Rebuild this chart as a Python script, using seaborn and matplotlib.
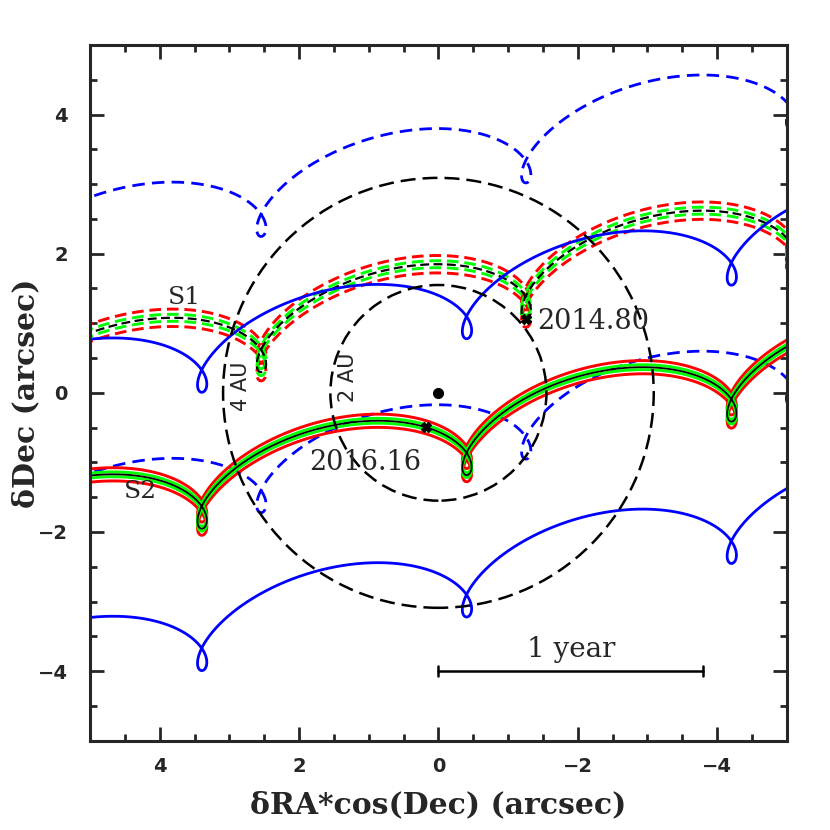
import numpy as np
import pandas as pd
import matplotlib
matplotlib.use("Agg")
import matplotlib.pyplot as plt
import seaborn as sns

# Track parameters (arcsec and arcsec/yr)
sources = ["S1", "S2"]
ref_epoch = [2014.80, 2016.49]   # epoch of the cusp of each track
ra_ref = [-1.26, -0.41]
dec_ref = [1.62, -0.63]
mu_ra = -3.80
mu_dec = 0.77
plx_ra = 0.76
plx_dec = 0.57
plx_phase = -0.25
green_offset = [0.05, 0.035]
red_offset = [0.125, 0.095]
blue_shift = [[1.95, -2.02], [1.96, -2.04]]
track_ls = ["--", "-"]

marker_epochs = [2014.80, 2016.16]
marker_labels = ["2014.80", "2016.16"]
marker_text_xy = [(-1.42, 1.02), (1.05, -1.0)]
marker_text_ha = ["left", "center"]
source_label_xy = [(3.65, 1.37), (4.28, -1.42)]

circle_radii = [1.55, 3.09]
circle_labels = ["2 AU", "4 AU"]
circle_label_xy = [(1.30, 0.23), (2.83, 0.09)]

bar_start = 0.0
bar_y = -4.0
bar_text_y = -3.69


def track(i, t):
    # proper motion plus annual parallax, t in years from the reference epoch
    ph = 2 * np.pi * t
    x = ra_ref[i] + mu_ra * t + plx_ra * np.sin(ph)
    y = dec_ref[i] + mu_dec * t - plx_dec * np.cos(ph + plx_phase)
    return x, y


sns.set_style("ticks")
plt.rcParams["font.family"] = ["DejaVu Sans"]

fig = plt.figure(figsize=(8.3, 8.3), dpi=100)
ax = fig.add_axes([0.1084, 0.1076, 0.8396, 0.8382])

t = np.linspace(-2.2, 1.8, 6000)
dash_blue = (0, (4.5, 2.6))
dash_band = (0, (4.0, 2.0))

for i, name in enumerate(sources):
    x, y = track(i, t)
    ls_blue = dash_blue if track_ls[i] == "--" else "-"
    ls_band = dash_band if track_ls[i] == "--" else "-"
    for shift in blue_shift[i]:
        df = pd.DataFrame({"x": x, "y": y + shift})
        sns.lineplot(data=df, x="x", y="y", sort=False, estimator=None, ax=ax,
                     color="#0000ff", lw=2.0, linestyle=ls_blue)
    for off in (red_offset[i], -red_offset[i]):
        df = pd.DataFrame({"x": x, "y": y + off})
        sns.lineplot(data=df, x="x", y="y", sort=False, estimator=None, ax=ax,
                     color="#ff0000", lw=2.1, linestyle=ls_band)
    for off in (green_offset[i], -green_offset[i]):
        df = pd.DataFrame({"x": x, "y": y + off})
        sns.lineplot(data=df, x="x", y="y", sort=False, estimator=None, ax=ax,
                     color="#00ff00", lw=2.1, linestyle=ls_band)
    df = pd.DataFrame({"x": x, "y": y})
    sns.lineplot(data=df, x="x", y="y", sort=False, estimator=None, ax=ax,
                 color="black", lw=1.3 if track_ls[i] == "-" else 1.6,
                 linestyle=ls_band)
    ax.text(*source_label_xy[i], name, fontsize=18, family="DejaVu Serif",
            ha="center", va="center")

# epoch markers on the tracks
for i, ep in enumerate(marker_epochs):
    mx, my = track(i, ep - ref_epoch[i])
    ax.plot(mx, my, marker="X", ms=7, color="black", mec="black", zorder=6)
    ax.text(*marker_text_xy[i], marker_labels[i], fontsize=19.5,
            family="DejaVu Serif", ha=marker_text_ha[i], va="center", zorder=7)

# separation circles
for r, lab, (lx, ly) in zip(circle_radii, circle_labels, circle_label_xy):
    ax.add_patch(plt.Circle((0, 0), r, fill=False, color="black", lw=1.8,
                            linestyle=(0, (6, 2.8)), zorder=5))
    ax.text(lx, ly, lab, rotation=90, fontsize=15, ha="center", va="center",
            zorder=7)

ax.plot(0, 0, "o", color="black", ms=7, zorder=6)

# 1 year bar
bar_end = bar_start + mu_ra
ax.plot([bar_start, bar_end], [bar_y, bar_y], color="black", lw=1.8)
for bx in (bar_start, bar_end):
    ax.plot([bx, bx], [bar_y - 0.07, bar_y + 0.07], color="black", lw=1.8)
ax.text((bar_start + bar_end) / 2, bar_text_y, "1 year", fontsize=20,
        family="DejaVu Serif", ha="center", va="center")

ax.set_xlim(5, -5)
ax.set_ylim(-5, 5)
ax.set_xticks([4, 2, 0, -2, -4])
ax.set_yticks([-4, -2, 0, 2, 4])
ax.set_xticklabels(["4", "2", "0", "\u22122", "\u22124"])
ax.set_yticklabels(["\u22124", "\u22122", "0", "2", "4"])
ax.set_xticks(np.arange(-4.5, 5, 0.5), minor=True)
ax.set_yticks(np.arange(-4.5, 5, 0.5), minor=True)
ax.tick_params(which="both", direction="in", top=True, right=True, width=2)
ax.tick_params(which="major", length=10, labelsize=14, pad=12)
ax.tick_params(axis="y", which="major", pad=16)
ax.tick_params(which="minor", length=5)
for lab in ax.get_xticklabels() + ax.get_yticklabels():
    lab.set_fontweight("bold")
for sp in ax.spines.values():
    sp.set_linewidth(2.2)

ax.set_xlabel("\u03b4RA*cos(Dec) (arcsec)", fontsize=21.5, family="DejaVu Serif",
              fontweight="bold", labelpad=10)
ax.set_ylabel("\u03b4Dec (arcsec)", fontsize=21.5, family="DejaVu Serif",
              fontweight="bold", labelpad=-2)

fig.savefig("out.png", dpi=100)
